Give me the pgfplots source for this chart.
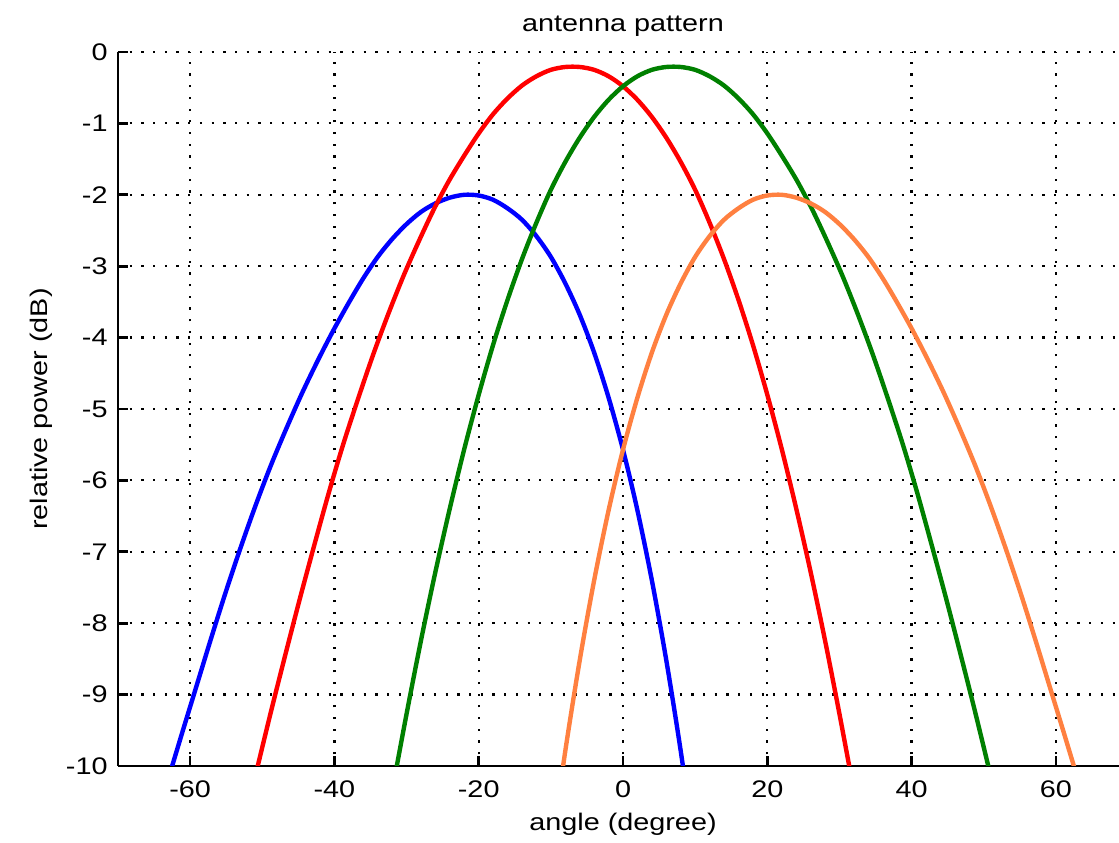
\documentclass[border=0pt]{standalone}
\usepackage{fontspec}
\setmainfont[FakeStretch=1.2]{Liberation Sans}
\usepackage{pgfplots}
\pgfplotsset{compat=1.18}
\definecolor{mblue}{RGB}{0,0,255}
\definecolor{mred}{RGB}{255,0,0}
\definecolor{mgreen}{RGB}{0,128,0}
\definecolor{morange}{RGB}{255,128,64}
\begin{document}
\begin{tikzpicture}[font=\fontsize{12}{14.4}\selectfont]
\begin{axis}[
  scale only axis,
  width=505pt, height=357pt,
  xmin=-70, xmax=70, ymin=-10, ymax=0,
  axis lines=left,
  axis line style={-, line width=1.35pt, black},
  tick align=inside,
  major tick length=5pt,
  tick style={line width=1.35pt, black},
  xtick={-60,-40,-20,0,20,40,60},
  ytick={-10,-9,-8,-7,-6,-5,-4,-3,-2,-1,0},
  /pgf/number format/assume math mode=true,
  grid=major,
  major grid style={black, line width=1.1pt, dash pattern=on 1.1pt off 4.75pt},
  xticklabel style={inner sep=0pt, anchor=north, yshift=-7pt},
  yticklabel style={inner sep=0pt, anchor=east, xshift=-5pt},
  every axis title shift=0pt,
  title={antenna pattern},
  title style={at={(axis description cs:0.5,1)}, anchor=base, yshift=10.2pt, inner sep=0pt},
  xlabel={angle (degree)},
  xlabel style={at={(axis description cs:0.5,0)}, anchor=base, yshift=-32.5pt, inner sep=0pt},
  ylabel={relative power (dB)},
  ylabel style={at={([xshift=-35pt]axis description cs:0,0.5)}, anchor=base, rotate=0, inner sep=0pt},
  every axis plot/.append style={line width=2.2pt, smooth},
]
% blue
\addplot[mblue] coordinates {
(-65.15,-10.88) (-63.15,-10.22) (-61.15,-9.55) (-59.15,-8.89) (-57.15,-8.23) (-55.15,-7.59) (-53.1,-6.97) (-51.0,-6.37) (-48.85,-5.80) (-46.65,-5.27) (-44.45,-4.77) (-42.25,-4.31) (-40.1,-3.89) (-38,-3.51) (-36,-3.17) (-34,-2.87) (-32,-2.62) (-30,-2.41) (-28,-2.24) (-26,-2.12) (-24,-2.04) (-22,-2.00) (-20,-2.01) (-18,-2.07) (-16,-2.19) (-14,-2.35) (-12,-2.58) (-10,-2.87) (-8,-3.24) (-6,-3.68) (-4,-4.21) (-2,-4.84) (0,-5.57) (2,-6.42) (4,-7.40) (6,-8.52) (8,-9.79) (10,-11.22)
};
% red
\addplot[mred] coordinates {
(-52.8,-10.90) (-50.8,-10.07) (-48.8,-9.24) (-46.8,-8.44) (-44.8,-7.66) (-42.8,-6.91) (-40.8,-6.18) (-38.8,-5.50) (-36.7,-4.85) (-34.6,-4.23) (-32.5,-3.66) (-30.4,-3.13) (-28.3,-2.65) (-26.2,-2.20) (-24.1,-1.80) (-22,-1.45) (-20,-1.14) (-18,-0.87) (-16,-0.65) (-14,-0.47) (-12,-0.34) (-10,-0.25) (-8,-0.21) (-6,-0.21) (-4,-0.25) (-2,-0.34) (0,-0.48) (2,-0.67) (4,-0.91) (6,-1.20) (8,-1.54) (10,-1.93) (12,-2.39) (14,-2.90) (16,-3.47) (18,-4.10) (20,-4.80) (22,-5.56) (24,-6.39) (26,-7.28) (28,-8.24) (30,-9.27) (32,-10.35)
};
% green
\addplot[mgreen] coordinates {
(-32,-10.35) (-30,-9.27) (-28,-8.24) (-26,-7.28) (-24,-6.39) (-22,-5.56) (-20,-4.80) (-18,-4.10) (-16,-3.47) (-14,-2.90) (-12,-2.39) (-10,-1.93) (-8,-1.54) (-6,-1.20) (-4,-0.91) (-2,-0.67) (0,-0.48) (2,-0.34) (4,-0.25) (6,-0.21) (8,-0.21) (10,-0.25) (12,-0.34) (14,-0.47) (16,-0.65) (18,-0.87) (20,-1.14) (22,-1.45) (24.1,-1.80) (26.2,-2.20) (28.3,-2.65) (30.4,-3.13) (32.5,-3.66) (34.6,-4.23) (36.7,-4.85) (38.8,-5.50) (40.8,-6.18) (42.8,-6.91) (44.8,-7.66) (46.8,-8.44) (48.8,-9.24) (50.8,-10.07) (52.8,-10.90)
};
% orange
\addplot[morange] coordinates {
(-10,-11.22) (-8,-9.79) (-6,-8.52) (-4,-7.40) (-2,-6.42) (0,-5.57) (2,-4.84) (4,-4.21) (6,-3.68) (8,-3.24) (10,-2.87) (12,-2.58) (14,-2.35) (16,-2.19) (18,-2.07) (20,-2.01) (22,-2.00) (24,-2.04) (26,-2.12) (28,-2.24) (30,-2.41) (32,-2.62) (34,-2.87) (36,-3.17) (38,-3.51) (40.1,-3.89) (42.25,-4.31) (44.45,-4.77) (46.65,-5.27) (48.85,-5.80) (51.0,-6.37) (53.1,-6.97) (55.15,-7.59) (57.15,-8.23) (59.15,-8.89) (61.15,-9.55) (63.15,-10.22) (65.15,-10.88)
};
\end{axis}
\pgfresetboundingbox
\path[use as bounding box] ([shift={(-59pt,-38.5pt)}]current axis.south west) rectangle ([shift={(-4.5pt,26pt)}]current axis.north east);
\end{tikzpicture}
\end{document}
